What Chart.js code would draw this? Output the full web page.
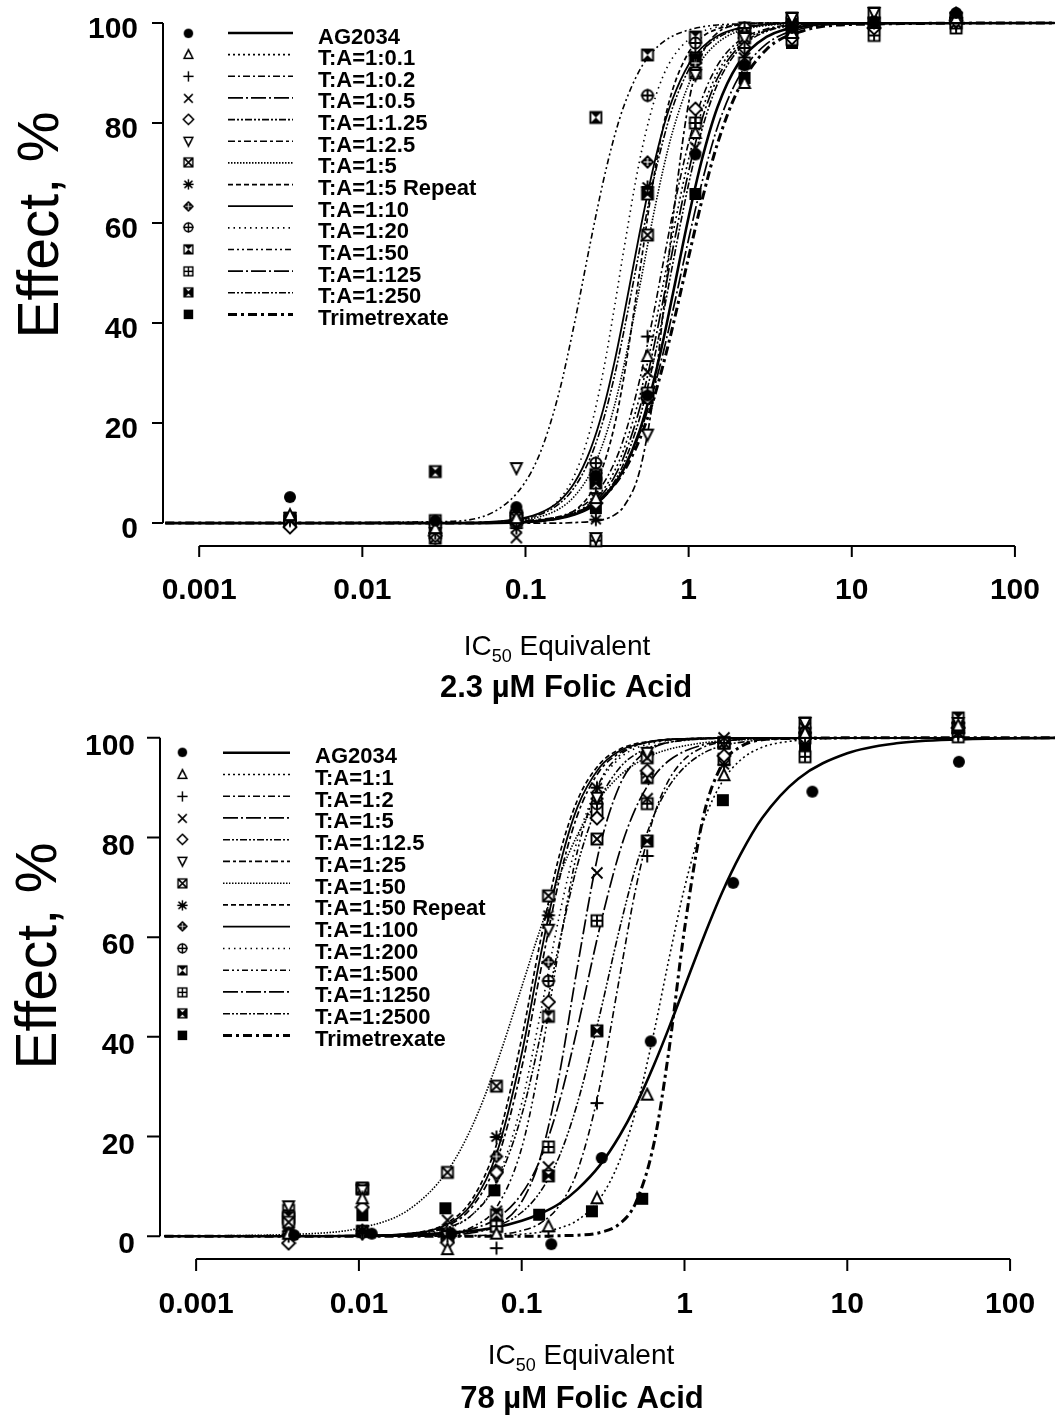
<!DOCTYPE html>
<html><head><meta charset="utf-8">
<script src="https://cdn.jsdelivr.net/npm/chart.js@4.4.1/dist/chart.umd.min.js"></script>
<style>
html,body{margin:0;padding:0;background:#fff;}
#wrap{position:relative;width:1063px;height:1416px;overflow:hidden;background:#fff;}
canvas{position:absolute;left:0;}
#c1{top:0;} #c2{top:710px;}
</style></head><body>
<div id="wrap"><canvas id="c1" width="1063" height="710"></canvas><canvas id="c2" width="1063" height="706"></canvas></div>
<script>
// ---------------- DATA ----------------
const xTickValues = [0.001, 0.01, 0.1, 1, 10, 100];
const xTickLabels = ['0.001', '0.01', '0.1', '1', '10', '100'];
const yTickValues = [0, 20, 40, 60, 80, 100];
const xAxisTitle = ['IC', '50', ' Equivalent'];
const yAxisTitle = 'Effect, %';
const topTitle = '2.3 \u00B5M Folic Acid';
const bottomTitle = '78 \u00B5M Folic Acid';

const topSeries = ['AG2034','T:A=1:0.1','T:A=1:0.2','T:A=1:0.5','T:A=1:1.25','T:A=1:2.5','T:A=1:5','T:A=1:5 Repeat','T:A=1:10','T:A=1:20','T:A=1:50','T:A=1:125','T:A=1:250','Trimetrexate'];
const bottomSeries = ['AG2034','T:A=1:1','T:A=1:2','T:A=1:5','T:A=1:12.5','T:A=1:25','T:A=1:50','T:A=1:50 Repeat','T:A=1:100','T:A=1:200','T:A=1:500','T:A=1:1250','T:A=1:2500','Trimetrexate'];

// top panel: measured points
const topDoseX = [0.0036, 0.028, 0.088, 0.27, 0.56, 1.1, 2.2, 4.3, 13.7, 43.6];
const top_AG2034 = [5.2, 0.5, 3.2, 9.5, 25.5, 73.7, 91.5, 99, 100, 102];
const top_TA_0_1 = [1.6, -1, 1, 5, 33.4, 78, 88, 98, 100, 101];
const top_TA_0_2 = [0.5, -2, 0.5, 6, 37.3, 80, 95, 99, 100, 101];
const top_TA_0_5 = [0.8, -2, -2.9, 5, 30.2, 75.1, 93, 98, 100, 101];
const top_TA_1_25 = [-0.8, -2.5, 0.5, 4, 25, 82.8, 95, 97, 99, 100.5];
const top_TA_2_5 = [1, -2, 11, -3, 17.7, 89.6, 97, 101, 102, 100];
const top_TA_5 = [0.5, -3, 1, 9.7, 57.6, 90, 97, 99, 100, 100];
const top_TA_5R = [0.5, -2, -1, 0.7, 67.2, 93.5, 97, 100, 100, 101];
const top_TA_10 = [0, -2.5, 1.5, 10, 72.2, 92, 98, 100, 100, 102];
const top_TA_20 = [0.5, -3, 2, 12, 85.5, 96, 99, 100, 100, 101];
const top_TA_50 = [1, -1, 1.5, 81.1, 93.6, 97.2, 99, 101, 102, 101];
const top_TA_125 = [0.5, 0.5, 0.5, -3.5, 26, 80, 92, 96.7, 97.5, 99];
const top_TA_250 = [0.3, 10.3, 1, 8, 65.8, 93, 98, 100, 100, 101];
const top_TMQ = [0, -1, 0.5, 3, 25, 65.8, 89, 96, 98.5, 99.5];

// top panel: fitted curves read at these doses
const topCurveX = [0.00062, 0.03, 0.08, 0.12, 0.16, 0.2, 0.25, 0.3, 0.35, 0.4, 0.5, 0.6, 0.7, 0.8, 1.0, 1.2, 1.5, 2, 3, 5, 10, 175];
const topFit_AG2034 = [0,0,0.1,0.4,0.9,1.7,3.1,5.1,7.7,10.8,18.4,27.4,36.7,45.8,61.2,72.4,83.1,91.7,97.2,99.3,99.9,100];
const topFit_TA_0_1 = [0,0,0.1,0.5,1.1,2.1,4.0,6.7,10.3,14.7,25.2,36.7,47.9,57.8,72.8,82.2,90.0,95.6,98.6,99.7,100,100];
const topFit_TA_0_2 = [0,0,0.2,0.6,1.3,2.5,4.7,7.9,12.0,16.9,28.5,40.7,52.2,62.0,76.1,84.6,91.5,96.2,98.8,99.8,100,100];
const topFit_TA_0_5 = [0,0,0.1,0.4,1.0,1.9,3.6,6.0,9.2,13.2,22.8,33.9,44.8,54.8,70.3,80.4,88.9,95.0,98.5,99.7,100,100];
const topFit_TA_1_25 = [0,0,0.1,0.4,0.9,1.7,3.2,5.4,8.3,11.9,20.9,31.3,41.9,51.9,67.8,78.4,87.7,94.4,98.3,99.6,100,100];
const topFit_TA_2_5 = [0,0,0,0,0,0.1,0.3,0.7,1.6,3.3,10.3,24.0,42.4,60.6,84.0,93.5,98.0,99.6,100,100,100,100];
const topFit_TA_5 = [0,0,0.4,1.2,2.8,5.4,10.0,16.1,23.3,31.3,47.1,60.6,70.9,78.4,87.7,92.5,96.0,98.3,99.5,99.9,100,100];
const topFit_TA_5R = [0,0,0.1,0.3,1.0,2.5,5.9,11.5,19.3,29.0,50.0,67.5,79.4,86.8,94.1,97.1,98.8,99.6,99.9,100,100,100];
const topFit_TA_10 = [0,0,0.6,1.9,4.3,8.1,14.7,22.8,32.0,41.3,57.9,70.3,79.1,84.9,91.7,95.0,97.4,98.9,99.7,100,100,100];
const topFit_TA_20 = [0,0,0.4,1.7,4.6,9.6,18.8,30.4,42.9,54.5,72.4,83.2,89.5,93.1,96.7,98.2,99.2,99.7,100,100,100,100];
const topFit_TA_50 = [0,0.3,4.5,13.2,25.9,40.1,56.1,68.4,77.2,83.3,90.5,94.2,96.2,97.4,98.6,99.2,99.6,99.8,100,100,100,100];
const topFit_TA_125 = [0,0,0.2,0.5,1.1,2.0,3.5,5.4,7.9,10.8,17.8,25.8,34.2,42.4,56.8,67.8,79.1,88.8,95.8,98.9,99.8,100];
const topFit_TA_250 = [0,0,0.5,1.6,3.8,7.2,13.1,20.6,29.2,38.2,54.6,67.5,76.7,83.2,90.6,94.3,97.0,98.7,99.6,100,100,100];
const topFit_TMQ = [0,0,0.2,0.6,1.1,2.0,3.4,5.3,7.6,10.3,16.7,24.0,31.8,39.4,53.2,64.2,75.8,86.5,94.7,98.4,99.7,100];

// bottom panel: measured points
const bottomDoseX = [0.0037, 0.0105, 0.035, 0.07, 0.146, 0.29, 0.59, 1.75, 5.5, 48];
const bottomDoseX_AG2034 = [0.004, 0.012, 0.037, 0.152, 0.31, 0.62, 1.99, 6.1, 48.5];
const bottomDoseX_TMQ = [0.0105, 0.034, 0.068, 0.128, 0.27, 0.55, 1.72, 5.5, 48];
const bot_AG2034 = [0.2, 0.5, 0.5, -1.6, 15.7, 39.1, 70.9, 89.2, 95.2];
const bot_TA_1 = [0.5, 7.6, -2.6, 0.5, 2, 7.6, 28.4, 92.5, 101, 102.5];
const bot_TA_2 = [0, 0.5, 0, -2.4, 1, 26.7, 76.3, 99, 100, 101];
const bot_TA_5 = [0.5, 1, 3.2, 5, 13.9, 72.9, 87.8, 100, 102, 101];
const bot_TA_12_5 = [-1.4, 5.8, -1.3, 12.8, 47, 83.9, 93.4, 96.4, 100, 102];
const bot_TA_25 = [6, 9.2, 0, 12, 61.5, 88, 97, 99, 103, 103];
const bot_TA_50 = [2.8, 9.6, 12.8, 30.1, 68.3, 79.7, 96, 99, 100, 102];
const bot_TA_50R = [1, 1.2, 0.5, 19.9, 64.4, 90, 92.8, 94.6, 100, 101];
const bot_TA_100 = [0, 0.5, 0, 16, 55, 87.8, 97, 99, 100, 103];
const bot_TA_200 = [0.5, 1, 0, 13, 51.2, 86.8, 96.7, 99, 101, 102];
const bot_TA_500 = [3.8, 9.5, 0, 4.3, 44.1, 85.4, 92, 99, 103, 104];
const bot_TA_1250 = [5.2, 9.6, 0, 2, 17.9, 63.3, 86.8, 95.7, 96.2, 100.2];
const bot_TA_2500 = [3.5, 1, 0.5, 2, 12.1, 41.2, 79.3, 99, 101, 102];
const bot_TMQ = [4.2, 5.6, 9.2, 4.3, 5.0, 7.5, 87.5, 97.8, 101];

// bottom panel: fitted curves read at these doses
const bottomCurveX = [0.00064, 0.005, 0.01, 0.02, 0.035, 0.05, 0.07, 0.1, 0.13, 0.17, 0.22, 0.3, 0.4, 0.5, 0.65, 0.8, 1, 1.3, 1.7, 2.2, 3, 5, 10, 20, 50, 188];
const botFit_AG2034 = [0,0,0.1,0.3,0.7,1.1,1.8,3.1,4.5,6.5,9.4,14.1,20.2,26.1,34.4,41.7,50.0,59.7,68.9,76.5,83.9,91.8,96.9,98.9,99.7,100];
const botFit_TA_1 = [0,0,0,0,0,0.1,0.1,0.4,0.8,1.6,3.2,7.4,15.2,25.0,41.0,55.4,69.9,82.9,91.1,95.5,98.1,99.5,99.9,100,100,100];
const botFit_TA_2 = [0,0,0,0,0,0.1,0.3,1.1,2.6,6.1,13.1,29.6,52.1,69.5,84.4,91.5,95.7,98.1,99.2,99.7,100,100,100,100,100,100];
const botFit_TA_5 = [0,0,0,0,0.2,0.7,2.1,6.9,15.7,32.3,54.1,77.7,90.5,95.4,98.1,99.1,99.6,99.8,100,100,100,100,100,100,100,100];
const botFit_TA_12_5 = [0,0,0.1,0.4,1.7,4.4,10.6,24.3,40.1,58.7,74.5,87.4,94.0,96.7,98.4,99.1,99.5,99.8,99.9,100,100,100,100,100,100,100];
const botFit_TA_25 = [0,0,0.1,0.4,2.1,6.0,14.9,33.8,52.9,71.5,84.5,93.3,97.0,98.5,99.3,99.6,99.8,99.9,100,100,100,100,100,100,100,100];
const botFit_TA_50 = [0,0.5,1.6,5.2,13.1,22.3,34.5,50.0,61.6,72.2,80.5,87.8,92.4,94.8,96.7,97.7,98.4,99.0,99.4,99.6,99.8,99.9,100,100,100,100];
const botFit_TA_50R = [0,0,0.1,0.5,2.7,7.6,18.4,39.7,59.1,76.3,87.5,94.7,97.7,98.8,99.4,99.7,99.8,99.9,100,100,100,100,100,100,100,100];
const botFit_TA_100 = [0,0,0.1,0.5,2.4,6.7,16.5,36.6,56.0,73.9,86.1,94.0,97.4,98.6,99.4,99.7,99.8,99.9,100,100,100,100,100,100,100,100];
const botFit_TA_200 = [0,0,0,0.3,1.5,4.4,11.1,26.7,44.5,64.2,79.5,90.8,95.9,97.9,99.0,99.5,99.7,99.9,100,100,100,100,100,100,100,100];
const botFit_TA_500 = [0,0,0,0.1,0.5,1.9,5.8,17.7,35.1,58.0,77.3,91.0,96.5,98.4,99.3,99.7,99.8,99.9,100,100,100,100,100,100,100,100];
const botFit_TA_1250 = [0,0,0,0.1,0.6,1.5,3.5,8.5,15.4,26.9,41.8,61.6,77.2,85.8,92.3,95.4,97.3,98.6,99.3,99.7,99.8,99.9,100,100,100,100];
const botFit_TA_2500 = [0,0,0,0.1,0.4,0.9,2.0,4.8,8.9,16.0,26.7,44.1,61.8,73.9,84.5,90.2,94.1,96.9,98.4,99.1,99.6,99.9,100,100,100,100];
const botFit_TMQ = [0,0,0,0,0,0,0,0,0,0.1,0.2,0.7,2.5,6.6,18.7,37.0,61.6,83.9,94.6,98.2,99.6,99.9,100,100,100,100];

// ---------------- STYLE ----------------
const FONT = '"Liberation Sans", Arial, Helvetica, sans-serif';
const markerKinds = ['dot','tri','plus','x','diamond','triDown','sqX','star','dDiamond','cPlus','hourglass','sqPlus','bowtie','fsq'];
const lineDash = [[], [2,3], [7,3,2,3], [15,3,2,3], [7,2,2,2,2,2], [7,3,3,3], [1.5,1.5], [5,3], [], [1.5,4], [6,3,2,3,2,3], [15,3,2,3], [7,2,2,2,2,2], [9,4,3,4]];
const lineWidth = [2.6, 1.6, 1.6, 1.7, 1.6, 1.7, 1.6, 1.7, 1.8, 1.6, 1.6, 1.7, 1.6, 3.0];

function makeMarker(kind){
  const s = 16, c = document.createElement('canvas');
  c.width = s; c.height = s;
  const g = c.getContext('2d');
  g.strokeStyle = '#000'; g.fillStyle = '#000'; g.lineWidth = 1.9;
  const m = s/2, a = 2.5, b = s - 2.5;
  const sq = () => { g.strokeRect(a, a, b - a, b - a); };
  g.beginPath();
  switch(kind){
    case 'dot': g.arc(m, m, 6, 0, Math.PI*2); g.fill(); break;
    case 'tri': g.moveTo(m, 2); g.lineTo(m+5.5, 13); g.lineTo(m-5.5, 13); g.closePath(); g.fillStyle='#fff'; g.fill(); g.stroke(); break;
    case 'triDown': g.moveTo(m, 14); g.lineTo(m+5.5, 3); g.lineTo(m-5.5, 3); g.closePath(); g.fillStyle='#fff'; g.fill(); g.stroke(); break;
    case 'plus': g.moveTo(m, 1.5); g.lineTo(m, 14.5); g.moveTo(1.5, m); g.lineTo(14.5, m); g.stroke(); break;
    case 'x': g.moveTo(2.5, 2.5); g.lineTo(13.5, 13.5); g.moveTo(13.5, 2.5); g.lineTo(2.5, 13.5); g.stroke(); break;
    case 'diamond': g.moveTo(m, 1.5); g.lineTo(14.5, m); g.lineTo(m, 14.5); g.lineTo(1.5, m); g.closePath(); g.fillStyle='#fff'; g.fill(); g.stroke(); break;
    case 'sqX': g.fillStyle='#fff'; g.fillRect(a,a,b-a,b-a); sq(); g.moveTo(a,a); g.lineTo(b,b); g.moveTo(b,a); g.lineTo(a,b); g.stroke(); break;
    case 'star': g.moveTo(3,3.5); g.lineTo(13,12.5); g.moveTo(13,3.5); g.lineTo(3,12.5); g.moveTo(m,1.5); g.lineTo(m,14.5); g.moveTo(1.5,m); g.lineTo(14.5,m); g.stroke(); break;
    case 'dDiamond': g.moveTo(m, 1); g.lineTo(15, m); g.lineTo(m, 15); g.lineTo(1, m); g.closePath(); g.fill();
      g.beginPath(); g.strokeStyle='#fff'; g.lineWidth=1.2; g.moveTo(m,4); g.lineTo(m,12); g.moveTo(4,m); g.lineTo(12,m); g.stroke(); break;
    case 'cPlus': g.arc(m, m, 5.5, 0, Math.PI*2); g.fillStyle='#fff'; g.fill(); g.stroke(); g.beginPath(); g.moveTo(m,1.5); g.lineTo(m,14.5); g.moveTo(1.5,m); g.lineTo(14.5,m); g.stroke(); break;
    case 'hourglass': g.fillStyle='#fff'; g.fillRect(a,a,b-a,b-a); sq(); g.beginPath(); g.fillStyle='#000';
      g.moveTo(a,a); g.lineTo(b,a); g.lineTo(m,m); g.closePath(); g.moveTo(a,b); g.lineTo(b,b); g.lineTo(m,m); g.closePath(); g.fill(); break;
    case 'sqPlus': g.fillStyle='#fff'; g.fillRect(a,a,b-a,b-a); sq(); g.moveTo(m,a); g.lineTo(m,b); g.moveTo(a,m); g.lineTo(b,m); g.stroke(); break;
    case 'bowtie': g.fillStyle='#fff'; g.fillRect(a,a,b-a,b-a); sq(); g.beginPath(); g.fillStyle='#000';
      g.moveTo(a,a); g.lineTo(m,m); g.lineTo(a,b); g.closePath(); g.moveTo(b,a); g.lineTo(m,m); g.lineTo(b,b); g.closePath(); g.fill();
      g.beginPath(); g.moveTo(a,a); g.lineTo(b,b); g.moveTo(b,a); g.lineTo(a,b); g.stroke(); break;
    case 'fsq': g.fillRect(2, 2, 12, 12); break;
  }
  return c;
}
const markers = markerKinds.map(makeMarker);

function buildChart(id, P){
  const ppu = (P.y0 - P.y100) / 100;
  const yMin = -(P.bottom - P.y0) / ppu;
  const yMax = 100 + (P.y100 - P.top) / ppu;
  const dec = (P.x100 - P.x001) / 5;
  const xMin = Math.pow(10, -3 - (P.x001 - P.left) / dec);
  const xMax = Math.pow(10, 2 + (P.W - P.x100) / dec);
  const datasets = [];
  P.labels.forEach((lab, i) => {
    datasets.push({
      type: 'line', label: lab + ' (fit)',
      data: P.curveX.map((x, j) => ({x: x, y: P.curveY[i][j]})),
      borderColor: '#000', borderWidth: lineWidth[i], borderDash: lineDash[i],
      pointRadius: 0, cubicInterpolationMode: 'monotone', fill: false, clip: false, order: 2
    });
  });
  P.labels.forEach((lab, i) => {
    const xs = P.pointX[i];
    datasets.push({
      type: 'scatter', label: lab,
      data: xs.map((x, j) => ({x: x, y: P.pointY[i][j]})),
      pointStyle: markers[i], pointRadius: 7, showLine: false, clip: false, order: 1,
      borderColor: '#000', backgroundColor: '#000'
    });
  });

  const deco = {
    id: 'deco_' + id,
    beforeDatasetsDraw(chart){
      const ctx = chart.ctx, xs = chart.scales.x, ys = chart.scales.y, ca = chart.chartArea;
      ctx.save();
      ctx.strokeStyle = '#000'; ctx.lineWidth = 2; ctx.setLineDash([]);
      ctx.beginPath();
      const yl = ca.left;
      ctx.moveTo(yl, ys.getPixelForValue(100)); ctx.lineTo(yl, ys.getPixelForValue(0));
      yTickValues.forEach(v => { const p = ys.getPixelForValue(v); ctx.moveTo(yl - P.yTickLen, p); ctx.lineTo(yl, p); });
      const xb = ca.bottom - 1;
      ctx.moveTo(xs.getPixelForValue(xTickValues[0]), xb);
      ctx.lineTo(xs.getPixelForValue(xTickValues[xTickValues.length - 1]), xb);
      xTickValues.forEach(v => { const p = xs.getPixelForValue(v); ctx.moveTo(p, xb); ctx.lineTo(p, xb + P.xTickLen); });
      ctx.stroke();
      ctx.restore();
    },
    afterDraw(chart){
      const ctx = chart.ctx;
      ctx.save();
      // legend, built from the datasets' own styles
      const L = P.legend;
      const metas = chart.data.datasets;
      P.labels.forEach((lab, i) => {
        const y = L.y0 + i * L.dy;
        const line = metas[i], pts = metas[P.labels.length + i];
        const img = pts.pointStyle;
        ctx.drawImage(img, Math.round(L.mx - img.width / 2 * 0.8), Math.round(y - img.height / 2 * 0.8), img.width * 0.8, img.height * 0.8);
        ctx.beginPath();
        ctx.strokeStyle = '#000'; ctx.lineWidth = line.borderWidth; ctx.setLineDash(line.borderDash);
        ctx.moveTo(L.lx1, y); ctx.lineTo(L.lx2, y); ctx.stroke();
        ctx.setLineDash([]);
        ctx.fillStyle = '#000'; ctx.font = 'bold 22px ' + FONT; ctx.textAlign = 'left'; ctx.textBaseline = 'alphabetic';
        ctx.fillText(lab, L.tx, y + 10.5);
      });
      // x axis title with subscript
      ctx.fillStyle = '#000';
      ctx.textAlign = 'left'; ctx.textBaseline = 'alphabetic';
      const fMain = '28px ' + FONT, fSub = '18px ' + FONT;
      ctx.font = fMain; const w1 = ctx.measureText(xAxisTitle[0]).width, w3 = ctx.measureText(xAxisTitle[2]).width;
      ctx.font = fSub; const w2 = ctx.measureText(xAxisTitle[1]).width;
      let sx = P.xTitleCX - (w1 + w2 + w3) / 2;
      ctx.font = fMain; ctx.fillText(xAxisTitle[0], sx, P.xTitleY);
      ctx.font = fSub; ctx.fillText(xAxisTitle[1], sx + w1, P.xTitleY + 7);
      ctx.font = fMain; ctx.fillText(xAxisTitle[2], sx + w1 + w2, P.xTitleY);
      // panel caption
      ctx.font = 'bold 31px ' + FONT; ctx.textAlign = 'center';
      ctx.fillText(P.caption, P.capCX, P.capY);
      // y axis title
      ctx.translate(P.yTitleX, P.yTitleCY); ctx.rotate(-Math.PI / 2);
      ctx.font = '57px ' + FONT; ctx.textAlign = 'center'; ctx.textBaseline = 'alphabetic';
      ctx.fillText(yAxisTitle, 0, 0);
      ctx.restore();
    }
  };

  return new Chart(document.getElementById(id), {
    data: {datasets: datasets},
    plugins: [deco],
    options: {
      responsive: false, animation: false, devicePixelRatio: 1, events: [],
      layout: {padding: {top: P.top, left: 0, right: 0, bottom: 0}},
      plugins: {legend: {display: false}, tooltip: {enabled: false}, title: {display: false}},
      scales: {
        x: {
          type: 'logarithmic', position: 'bottom', min: xMin, max: xMax,
          grid: {display: false, drawTicks: false}, border: {display: false},
          afterBuildTicks: s => { s.ticks = xTickValues.map(v => ({value: v, major: true})); },
          afterFit: s => { s.height = P.H - P.bottom; s.paddingLeft = 0; s.paddingRight = 0; },
          ticks: {
            color: '#000', padding: P.xLabelPad, maxRotation: 0, autoSkip: false,
            font: {family: FONT, size: 30, weight: 'bold'},
            callback: v => { const k = xTickValues.indexOf(v); return k >= 0 ? xTickLabels[k] : ''; }
          }
        },
        y: {
          type: 'linear', position: 'left', min: yMin, max: yMax,
          grid: {display: false, drawTicks: false}, border: {display: false},
          afterBuildTicks: s => { s.ticks = yTickValues.map(v => ({value: v})); },
          afterFit: s => { s.width = P.left; s.paddingTop = 0; s.paddingBottom = 0; },
          ticks: {
            color: '#000', padding: 25, labelOffset: P.yLabelOffset,
            font: {family: FONT, size: 30, weight: 'bold'},
            callback: v => String(v)
          }
        }
      }
    }
  });
}

buildChart('c1', {
  W: 1063, H: 710, left: 163, top: 6, bottom: 547, y100: 21, y0: 523, x001: 198, x100: 1022.5,
  yTickLen: 11, xTickLen: 11, xLabelPad: 26, yLabelOffset: 7,
  labels: topSeries,
  pointX: topSeries.map(() => topDoseX),
  pointY: [top_AG2034, top_TA_0_1, top_TA_0_2, top_TA_0_5, top_TA_1_25, top_TA_2_5, top_TA_5, top_TA_5R, top_TA_10, top_TA_20, top_TA_50, top_TA_125, top_TA_250, top_TMQ],
  curveX: topCurveX,
  curveY: [topFit_AG2034, topFit_TA_0_1, topFit_TA_0_2, topFit_TA_0_5, topFit_TA_1_25, topFit_TA_2_5, topFit_TA_5, topFit_TA_5R, topFit_TA_10, topFit_TA_20, topFit_TA_50, topFit_TA_125, topFit_TA_250, topFit_TMQ],
  legend: {mx: 188, lx1: 228, lx2: 293, tx: 318, y0: 33, dy: 21.65},
  xTitleCX: 557, xTitleY: 655, caption: topTitle, capCX: 566, capY: 697,
  yTitleX: 58, yTitleCY: 225
});

buildChart('c2', {
  W: 1063, H: 706, left: 160, top: 4, bottom: 550, y100: 24, y0: 526, x001: 193, x100: 1017.5,
  yTickLen: 13, xTickLen: 12, xLabelPad: 27, yLabelOffset: 9,
  labels: bottomSeries,
  pointX: bottomSeries.map((s, i) => i === 0 ? bottomDoseX_AG2034 : (i === 13 ? bottomDoseX_TMQ : bottomDoseX)),
  pointY: [bot_AG2034, bot_TA_1, bot_TA_2, bot_TA_5, bot_TA_12_5, bot_TA_25, bot_TA_50, bot_TA_50R, bot_TA_100, bot_TA_200, bot_TA_500, bot_TA_1250, bot_TA_2500, bot_TMQ],
  curveX: bottomCurveX,
  curveY: [botFit_AG2034, botFit_TA_1, botFit_TA_2, botFit_TA_5, botFit_TA_12_5, botFit_TA_25, botFit_TA_50, botFit_TA_50R, botFit_TA_100, botFit_TA_200, botFit_TA_500, botFit_TA_1250, botFit_TA_2500, botFit_TMQ],
  legend: {mx: 182, lx1: 223, lx2: 290, tx: 315, y0: 42.7, dy: 21.75},
  xTitleCX: 581, xTitleY: 654, caption: bottomTitle, capCX: 582, capY: 698,
  yTitleX: 56, yTitleCY: 246
});
</script>
</body></html>
